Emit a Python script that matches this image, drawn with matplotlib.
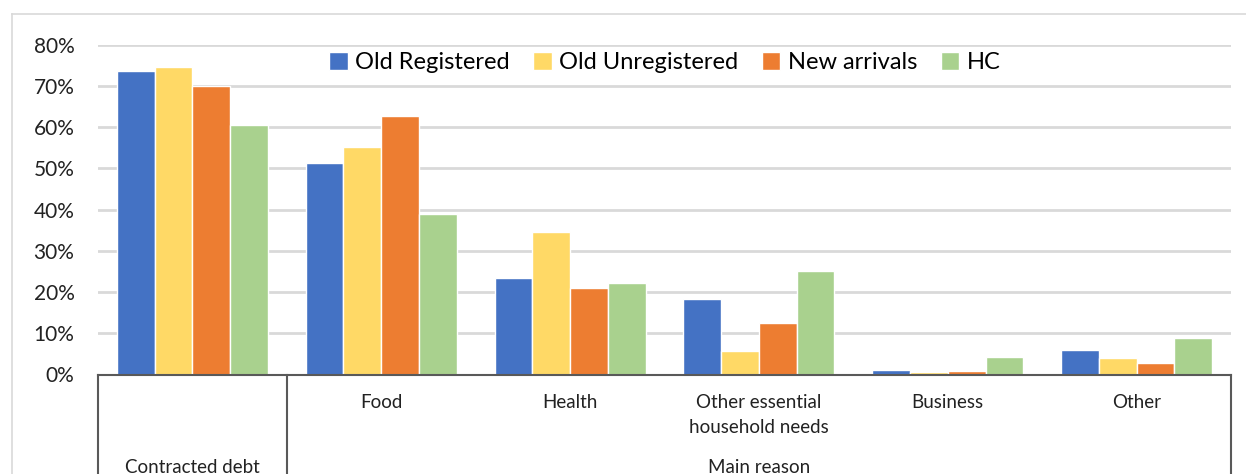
import matplotlib
matplotlib.use("Agg")
import matplotlib.pyplot as plt
from matplotlib.lines import Line2D
import numpy as np

plt.rcParams['font.family'] = ['Lato', 'DejaVu Sans']

categories = ["Contracted debt", "Food", "Health",
              "Other essential\nhousehold needs", "Business", "Other"]
series_names = ["Old Registered", "Old Unregistered", "New arrivals", "HC"]
old_registered = [73.7, 51.3, 23.4, 18.3, 1.0, 5.9]
old_unregistered = [74.6, 55.1, 34.5, 5.6, 0.5, 3.9]
new_arrivals = [69.9, 62.8, 20.9, 12.4, 0.75, 2.8]
hc = [60.5, 39.0, 22.2, 25.1, 4.2, 8.9]
yticks = [0, 10, 20, 30, 40, 50, 60, 70, 80]
group_label = "Main reason"

colors = ["#4472C4", "#FFD966", "#ED7D31", "#A9D18E"]
W, H = 1246, 474
fig = plt.figure(figsize=(W / 100, H / 100), dpi=100)

# outer light frame
fig.add_artist(Line2D([12 / W, 12 / W], [0, 1 - 14 / H], transform=fig.transFigure,
                      color="#d9d9d9", lw=1.2))
fig.add_artist(Line2D([12 / W, 1], [1 - 14 / H, 1 - 14 / H], transform=fig.transFigure,
                      color="#d9d9d9", lw=1.2))

left, right = 98 / W, 1231 / W
bottom, top = 1 - 374.5 / H, 1 - 44.7 / H
ax = fig.add_axes([left, bottom, right - left, top - bottom])

x = np.arange(len(categories))
bw = 0.2
all_series = [old_registered, old_unregistered, new_arrivals, hc]
for i, (vals, name, c) in enumerate(zip(all_series, series_names, colors)):
    ax.bar(x + (i - 1.5) * bw, vals, width=bw, color=c, edgecolor="white",
           linewidth=1.0, label=name, zorder=3)

ax.set_xlim(-0.5, len(categories) - 0.5)
ax.set_ylim(0, 80)
ax.set_yticks(yticks)
ax.set_yticklabels([f"{v}%" for v in yticks], fontsize=15, color="#222222")
ax.yaxis.grid(True, color="#d9d9d9", linewidth=2, zorder=0)
ax.set_axisbelow(True)
ax.tick_params(axis='y', length=0, pad=17)
ax.tick_params(axis='x', length=0, labelbottom=False)
for s in ["left", "right", "top"]:
    ax.spines[s].set_visible(False)
ax.spines["bottom"].set_color("#595959")
ax.spines["bottom"].set_linewidth(1.5)
ax.spines["bottom"].set_zorder(4)

# table-like category frame below the axis
trans = ax.get_xaxis_transform()
for xv in [-0.5, 0.5, len(categories) - 0.5]:
    ax.add_line(Line2D([xv, xv], [0, -1.5], transform=trans, color="#595959",
                       lw=1.5, clip_on=False))

for xi, cat in zip(x[1:], categories[1:]):
    ax.text(xi, -0.058, cat, transform=trans, ha="center", va="top",
            fontsize=13.5, color="#222222", linespacing=1.6)
ax.text(0, -0.255, categories[0], transform=trans, ha="center", va="top",
        fontsize=13.5, color="#222222")
ax.text(np.mean(x[1:]), -0.255, group_label, transform=trans, ha="center", va="top",
        fontsize=13.5, color="#222222")

ax.legend(loc="upper center", bbox_to_anchor=(0.5, 1.015), ncol=4, frameon=False,
          fontsize=17, handlelength=0.8, handleheight=0.8, handletextpad=0.3,
          columnspacing=1.0, borderaxespad=0.1)

fig.savefig("out.png", dpi=100)
